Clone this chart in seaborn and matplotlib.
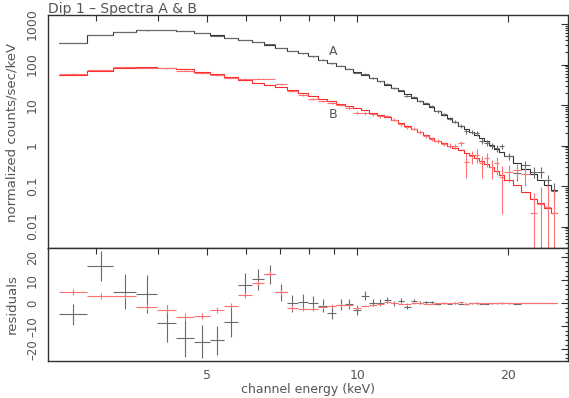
import numpy as np
import pandas as pd
import matplotlib
matplotlib.use("Agg")
import matplotlib.pyplot as plt
import seaborn as sns
from matplotlib.ticker import FixedLocator, NullFormatter, MultipleLocator

# ---------------- data ----------------
edges = [2.53, 2.89, 3.25, 3.61, 3.98, 4.34, 4.71, 5.07, 5.42, 5.79, 6.16, 6.51, 6.86, 7.23,
         7.60, 7.97, 8.34, 8.71, 9.08, 9.45, 9.82, 10.19, 10.56, 10.93, 11.30, 11.67, 12.04,
         12.41, 12.78, 13.15, 13.52, 13.89, 14.26, 14.67, 15.08, 15.49, 15.90, 16.31, 16.72,
         17.13, 17.54, 17.95, 18.36, 18.77, 19.20, 19.65, 20.45, 21.25, 22.10, 22.90, 23.65,
         24.40, 25.10]

model_a = [345, 525, 625, 695, 715, 680, 610, 530, 455, 400,
           355, 300, 252, 218, 188, 158, 132, 112, 94, 79,
           66, 55, 46, 38.5, 32, 26.5, 22, 18.2, 15, 12.3,
           10.5, 8.8, 7.2, 5.8, 4.7, 3.8, 3.1, 2.6, 2.15, 1.85,
           1.55, 1.3, 1.05, 0.8, 0.68, 0.55, 0.38, 0.26, 0.2, 0.14,
           0.105, 0.08]
data_a = [340.2, 541.4, 630.1, 699.0, 706.3, 664.8, 593.3, 514.0, 447.0, 408.0,
          365.4, 312.6, 256.8, 218.0, 188.7, 158.0, 131.0, 107.9, 93.4, 78.6,
          63.1, 58.3, 46.3, 38.8, 33.3, 26.5, 23.1, 16.5, 16.2, 12.6,
          11.0, 9.2, 7.0, 5.9, 4.6, 3.9, 3.0, 2.25, 2.2, 2.0,
          1.3, 1.15, 1.0, 0.85, 0.95, 0.55, 0.21, 0.33, 0.225, 0.225,
          0.14, 0.077]
err_a = [4.6, 6.5, 7.5, 8.2, 8.1, 8.0, 7.2, 6.3, 6.5, 5.2,
         4.7, 4.1, 3.6, 3.6, 3.2, 3.0, 2.7, 2.6, 2.3, 2.2,
         2.0, 2.0, 1.6, 1.4, 1.3, 1.1, 1.0, 0.9, 0.8, 0.7,
         0.65, 0.6, 0.5, 0.45, 0.4, 0.35, 0.32, 0.3, 0.27, 0.25,
         0.22, 0.2, 0.18, 0.16, 0.15, 0.1, 0.08, 0.08, 0.07, 0.07,
         0.05, 0.04]

model_b = [55, 70, 83, 85, 83, 76, 66, 57, 48, 41,
           35.5, 31, 28, 23.5, 20, 16.8, 14.2, 12.3, 10.8, 9.5,
           8.4, 7.4, 6.5, 5.7, 5.0, 4.3, 3.6, 3.1, 2.6, 2.2,
           1.85, 1.55, 1.32, 1.13, 0.98, 0.87, 0.76, 0.66, 0.57, 0.49,
           0.42, 0.35, 0.29, 0.24, 0.19, 0.14, 0.105, 0.07, 0.048, 0.038,
           0.028, 0.022]
data_b = [59.8, 73.2, 86.2, 83.4, 80.1, 70.2, 60.5, 54.0, 47.0, 44.6,
          44.5, 43.9, 32.8, 21.6, 17.5, 14.2, 12.5, 11.1, 9.9, 8.6,
          6.5, 6.2, 5.9, 5.3, 5.4, 4.3, 3.4, 2.9, 2.6, 2.2,
          1.75, 1.45, 1.3, 1.1, 1.0, 0.97, 1.13, 0.40, 0.55, 0.58,
          0.36, 0.48, 0.30, 0.36, 0.17, 0.225, 0.25, 0.2, 0.021, 0.035,
          0.03, 0.022]
err_b = [1.3, 1.3, 1.2, 1.5, 1.5, 1.4, 1.3, 1.2, 1.2, 1.2,
         1.2, 1.1, 1.0, 1.0, 0.9, 0.9, 0.8, 0.7, 0.7, 0.6,
         0.6, 0.5, 0.5, 0.45, 0.4, 0.35, 0.3, 0.3, 0.25, 0.22,
         0.2, 0.18, 0.16, 0.15, 0.14, 0.14, 0.15, 0.24, 0.2, 0.22,
         0.2, 0.18, 0.15, 0.17, 0.15, 0.1, 0.1, 0.1, 0.045, 0.06,
         0.07, 0.06]

series_names = ["A", "B"]
title_text = "Dip 1 \u2013 Spectra A & B"
x_label = "channel energy (keV)"
y_label_top = "normalized counts/sec/keV"
y_label_res = "residuals"
x_major = [5, 10, 20]
x_major_labels = ["5", "10", "20"]
x_minor = [3, 4, 6, 7, 8, 9]
y_top_ticks = [0.01, 0.1, 1, 10, 100, 1000]
y_top_labels = ["0.01", "0.1", "1", "10", "100", "1000"]
y_res_ticks = [-20, -10, 0, 10, 20]
y_res_labels = ["\u201320", "\u201310", "0", "10", "20"]

# ---------------- styling ----------------
sns.set_style("white")
plt.rcParams['font.family'] = ['DejaVu Sans']
TXT = '#555555'
SPINE = '#303030'
C_A_LINE, C_A_DATA = '#333333', '#6a6a6a'
C_B_LINE, C_B_DATA = '#ff2a2a', '#ff7070'

W, H = 569, 398
fig = plt.figure(figsize=(W / 100, H / 100), dpi=100)
L, R = 47.5, 567.5
ax = fig.add_axes([L / W, 1 - 248.3 / H, (R - L) / W, (248.3 - 15) / H])
axr = fig.add_axes([L / W, 1 - 361 / H, (R - L) / W, (361 - 248.3) / H], sharex=ax)

for a in (ax, axr):
    a.set_xscale('log')
ax.set_yscale('log', nonpositive='clip')

e = np.array(edges)
centers = 0.5 * (e[:-1] + e[1:])
half = 0.5 * (e[1:] - e[:-1])

sets = [
    (model_a, data_a, err_a, C_A_LINE, C_A_DATA),
    (model_b, data_b, err_b, C_B_LINE, C_B_DATA),
]
for model, data, err, cl, cd in sets:
    step_df = pd.DataFrame({"E": edges, "rate": list(model) + [model[-1]]})
    sns.lineplot(data=step_df, x="E", y="rate", ax=ax, drawstyle='steps-post',
                 color=cl, lw=0.8, sort=False, estimator=None)
    ax.errorbar(centers, data, xerr=half, yerr=err, fmt='none',
                ecolor=cd, elinewidth=0.8, capsize=0)
    resid = np.array(data) - np.array(model)
    axr.errorbar(centers, resid, xerr=half, yerr=err, fmt='none',
                 ecolor=cd, elinewidth=0.8, capsize=0)

ax.set_xlim(2.405, 26.3)
ax.set_ylim(0.0029, 1670)
axr.set_ylim(-25.1, 23.9)

for a in (ax, axr):
    a.xaxis.set_major_locator(FixedLocator(x_major))
    a.xaxis.set_minor_locator(FixedLocator(x_minor))
    a.xaxis.set_minor_formatter(NullFormatter())
    a.set_xlabel("")
    a.set_ylabel("")
    for s in a.spines.values():
        s.set_color(SPINE)
        s.set_linewidth(1.0)
    a.tick_params(which='both', direction='in', top=True, right=True,
                  colors=SPINE, labelcolor=TXT, labelsize=9)
    a.tick_params(which='major', length=5, width=0.8)
    a.tick_params(which='minor', length=2.5, width=0.8)
    a.tick_params(axis='x', which='minor', length=4)
    a.tick_params(axis='y', pad=6, labelrotation=90)
    a.tick_params(axis='x', pad=6)

ax.set_yticks(y_top_ticks)
ax.set_yticklabels(y_top_labels)
ax.yaxis.set_minor_formatter(NullFormatter())
ax.tick_params(axis='x', labelbottom=False)
for t in ax.get_yticklabels():
    t.set_va('center')

axr.set_yticks(y_res_ticks)
axr.set_yticklabels(y_res_labels)
axr.yaxis.set_minor_locator(MultipleLocator(2))
axr.set_xticks(x_major)
axr.set_xticklabels(x_major_labels)
axr.tick_params(axis='y', labelsize=8.5)
for t in axr.get_yticklabels():
    t.set_va('center')

# series labels
ax.text(8.96, 215, series_names[0], color=TXT, fontsize=9, ha='center', va='center')
ax.text(8.96, 6.0, series_names[1], color=TXT, fontsize=9, ha='center', va='center')

fig.text(L / W, 1 - 12.5 / H, title_text, color=TXT, fontsize=10, ha='left', va='baseline')
fig.text(308 / W, 1 - 390 / H, x_label, color=TXT, fontsize=9, ha='center', va='center')
fig.text(12 / W, 1 - 132 / H, y_label_top, color=TXT, fontsize=9.5, ha='center', va='center', rotation=90)
fig.text(12 / W, 1 - 304 / H, y_label_res, color=TXT, fontsize=9.5, ha='center', va='center', rotation=90)

fig.savefig("out.png", dpi=100)
